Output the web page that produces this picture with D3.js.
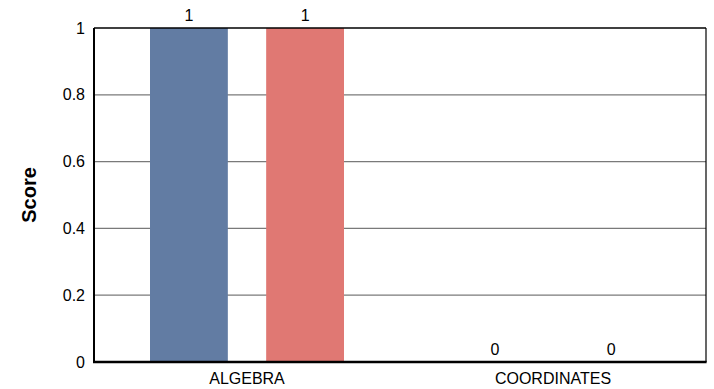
<!DOCTYPE html>
<html>
<head>
<meta charset="utf-8">
<script src="https://cdn.jsdelivr.net/npm/d3@7"></script>
<style>
  html, body { margin: 0; padding: 0; background: #fff; }
  svg { display: block; font-family: "Liberation Sans", Arial, sans-serif; }
</style>
</head>
<body>
<svg id="chart" width="714" height="389"></svg>
<script>
const categories = ['ALGEBRA', 'COORDINATES'];
const seriesNames = ['A', 'B'];
const seriesA = [1, 0];
const seriesB = [1, 0];
const yTicks = [0, 0.2, 0.4, 0.6, 0.8, 1];
const colors = ['#627ca3', '#e07873'];

const FONT = '"Liberation Sans", Arial, sans-serif';
const svg = d3.select('#chart');
const m = { left: 94, right: 8, top: 28, bottom: 27 };
const W = 714, H = 389;
const iw = W - m.left - m.right;
const ih = H - m.top - m.bottom;

const g = svg.append('g').attr('transform', `translate(${m.left},${m.top})`);

const x0 = d3.scaleBand().domain(categories).range([0, iw]).paddingInner(0).paddingOuter(0);
const x1 = d3.scaleBand().domain(seriesNames).range([56, x0.bandwidth() - 56]).paddingInner(0.33);
const y = d3.scaleLinear().domain([0, 1]).range([ih, 0]);

// grid
g.selectAll('line.grid')
  .data(yTicks.filter((t) => t > 0 && t < 1))
  .join('line')
  .attr('class', 'grid')
  .attr('x1', 0).attr('x2', iw)
  .attr('y1', (d) => y(d)).attr('y2', (d) => y(d))
  .attr('stroke', '#7a7a7a').attr('stroke-width', 1.2);

const rows = categories.map((c, i) => ({ cat: c, vals: [seriesA[i], seriesB[i]] }));

const grp = g.selectAll('g.cat')
  .data(rows)
  .join('g')
  .attr('transform', (d) => `translate(${x0(d.cat)},0)`);

grp.selectAll('rect')
  .data((d) => d.vals.map((v, j) => ({ s: seriesNames[j], v, j })))
  .join('rect')
  .attr('x', (d) => x1(d.s))
  .attr('width', x1.bandwidth())
  .attr('y', (d) => y(d.v))
  .attr('height', (d) => ih - y(d.v))
  .attr('fill', (d) => colors[d.j]);

grp.selectAll('text.val')
  .data((d) => d.vals.map((v, j) => ({ s: seriesNames[j], v })))
  .join('text')
  .attr('class', 'val')
  .attr('x', (d) => x1(d.s) + x1.bandwidth() / 2)
  .attr('y', (d) => y(d.v) - 7)
  .attr('text-anchor', 'middle')
  .attr('font-size', 16)
  .attr('fill', '#000')
  .text((d) => d.v);

// frame
g.append('line').attr('x1', 0).attr('x2', iw).attr('y1', 0).attr('y2', 0).attr('stroke', '#000').attr('stroke-width', 1.5);
g.append('line').attr('x1', iw).attr('x2', iw).attr('y1', 0).attr('y2', ih).attr('stroke', '#000').attr('stroke-width', 1.2);
g.append('line').attr('x1', 0).attr('x2', 0).attr('y1', 0).attr('y2', ih).attr('stroke', '#000').attr('stroke-width', 2);
g.append('line').attr('x1', -1).attr('x2', iw + 0.6).attr('y1', ih).attr('y2', ih).attr('stroke', '#000').attr('stroke-width', 2.5);

// y axis labels
const yAxis = d3.axisLeft(y).tickValues(yTicks).tickSize(0).tickPadding(9).tickFormat((d) => String(d));
const ya = g.append('g').call(yAxis);
ya.select('.domain').remove();
ya.attr('font-size', 16).attr('font-family', FONT);
ya.selectAll('text').attr('fill', '#000');

// x axis labels
const xAxis = d3.axisBottom(x0).tickSize(0).tickPadding(11);
const xa = g.append('g').attr('transform', `translate(0,${ih})`).call(xAxis);
xa.select('.domain').remove();
xa.attr('font-size', 16).attr('font-family', FONT);
xa.selectAll('text').attr('fill', '#000');

svg.append('text')
  .attr('transform', `translate(36,${m.top + ih / 2}) rotate(-90)`)
  .attr('text-anchor', 'middle')
  .attr('font-size', 20)
  .attr('font-weight', 'bold')
  .attr('font-family', FONT)
  .text('Score');
</script>
</body>
</html>
